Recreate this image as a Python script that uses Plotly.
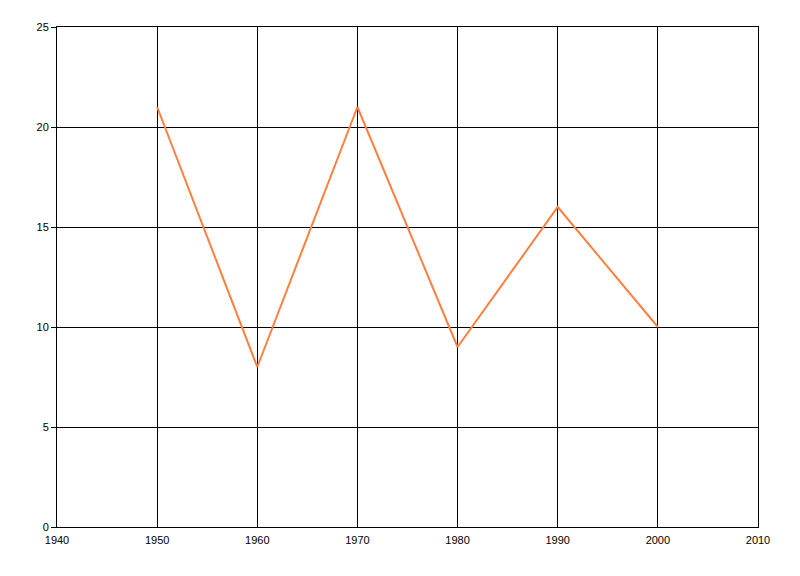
import plotly.graph_objects as go

years = [1950, 1960, 1970, 1980, 1990, 2000]
values = [21, 8, 21, 9, 16, 10]

fig = go.Figure()
fig.add_trace(go.Scatter(x=years, y=values, mode="lines",
                         line=dict(color="#FF7F3F", width=2), showlegend=False))

fig.update_layout(
    width=784, height=560,
    margin=dict(l=49, r=34, t=19, b=41),
    paper_bgcolor="white", plot_bgcolor="white",
    font=dict(family="Liberation Sans, Arial, sans-serif", size=11, color="black"),
)
fig.update_xaxes(range=[1940, 2010], dtick=10, tick0=1940, showgrid=True,
                 gridcolor="black", gridwidth=1, showline=True, linecolor="black",
                 linewidth=1, mirror=True, zeroline=False, ticks="",
                 ticklabelstandoff=3)
fig.update_yaxes(range=[0, 25], dtick=5, showgrid=True, gridcolor="black",
                 gridwidth=1, showline=True, linecolor="black", linewidth=1,
                 mirror=True, zeroline=False, ticks="outside", ticklen=5,
                 tickcolor="black", ticklabelstandoff=0)

fig.write_html("out.html")
